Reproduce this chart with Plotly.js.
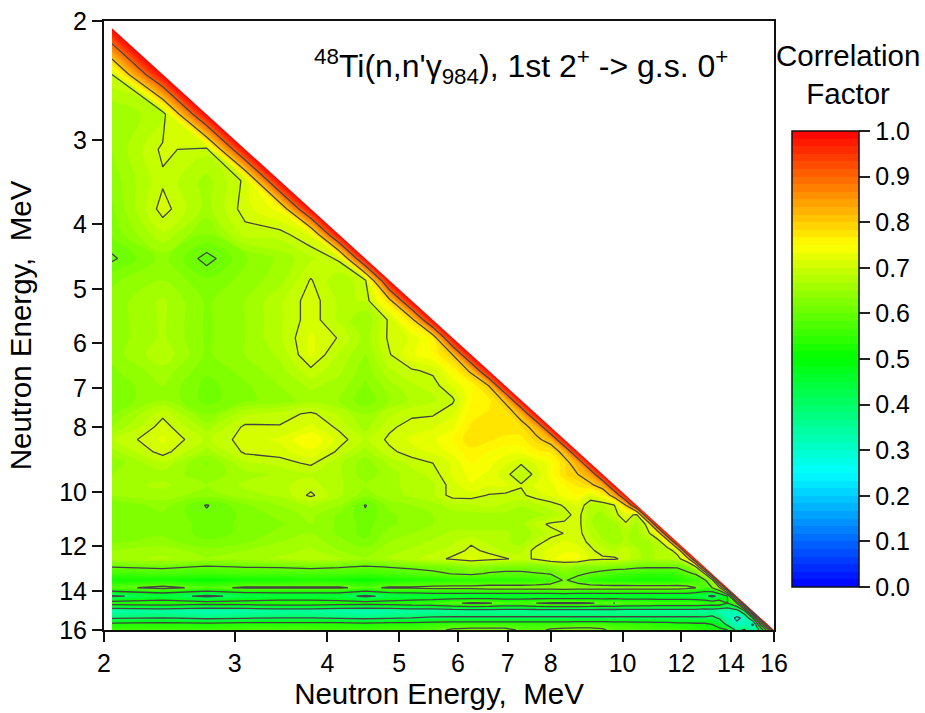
<!DOCTYPE html>
<html>
<head>
<meta charset="utf-8">
<script src="https://cdn.plot.ly/plotly-3.0.1.min.js"></script>
<style>html,body{margin:0;padding:0;background:#fff}</style>
</head>
<body>
<div id="chart" style="width:925px;height:713px"></div>
<script>
// Neutron energy grid (MeV), shared by both axes
var energies = [2.05,2.4,2.75,3.1,3.45,3.8,4.15,4.5,4.85,5.2,5.55,5.9,6.25,6.6,6.95,7.3,7.65,8.0,8.35,8.7,9.05,9.4,9.75,10.1,10.45,10.8,11.15,11.5,11.85,12.2,12.55,12.9,13.2,13.5,13.85,14.25,14.6,15,15.35,15.7,16];
var tickEnergies = [2,3,4,5,6,7,8,10,12,14,16];
var factorTicks = [0,0.1,0.2,0.3,0.4,0.5,0.6,0.7,0.8,0.9,1];
// Correlation factor x 100, lower triangle: row i covers energies[0..i]
var correlationPct = [
[100],
[70,100],
[65,68,100],
[65,70.5,69,100],
[64,69.6,66,70.5,100],
[63,71,66,71,74,100],
[62,68,63,69,69,72,100],
[59.5,64,59,63,65.5,68,70.5,100],
[63,65,62,64,66,70.2,67,69.5,100],
[64,67,63,65,68,71,68,68.5,78,100],
[64,67,63,65,68,71,68,65,70.5,78,100],
[64,67,63,65,68,72,69.8,66,70.5,72,76,100],
[64,68,63,65,67,72,68,65,69.8,73,75,80,100],
[63,66,62,64,66,69.5,67,64,68,69.7,70.5,75,81,100],
[62,65,61,63,65,67,66,63,66,68,69,72,75,80,100],
[62,65,61,63,64,66,65,62,65,67,68,69.5,75,76,81,100],
[63,69.5,63,68,69,70.5,68,65,68,69.5,69.7,71.5,76,77,77,82,100],
[65,71,66,70.5,70.2,72,69.5,66,69.5,71,71.5,73,77,77,78,78,82,100],
[68,72,68,71,72,75,71,68,70.5,72,73,75,78,77,76,76,79,82,100],
[66,71,66,70.5,71,73,69.5,66,69.5,71,72,74,76,75,74,74,76,77,82,100],
[64,68,63,68,69,70.5,67,64,67,69,70,72,75,74,72,70.2,72,74,78,83,100],
[65,66,64,66,67,68,67,64,66,67.5,69,72,74,73,70.6,68.5,70.6,74,78,80,84,100],
[66,67,65,67,68,69,67,65,66,67.5,68,71,73,72,72,70.2,72,73,75,77,79,83,100],
[65,66,64,66,67,70.5,67,64,66,67,68,71,71,69.8,69.5,69.5,71,72,74,75,72,75,83,100],
[62,64,59.8,63,65,67,65,59.8,64,65,66,67.5,68,69,68,67,68,69,70.3,72,68,68,70,80,100],
[62,63,60.5,62,64,65.5,63,60.5,63,64,65,66,66,66,66,65,66,67,69,71,67,66,69,72,69,100],
[62,63,61,62,63,65,63,61,63,64,65,66,66,66,66,66,69,70.5,70.5,71,67,65,66,69.5,66,71,100],
[62,63,61,62,64,65,63,61,64,65,66,67,67,67,67,66,67,69,70.1,71,68,66,66,67,66,69,74,100],
[63,64,62,63,65,66,64,62,65,66,67,68,69.7,68,67,66,69,71,72,71,69.5,67,66,67,66,66,68,74,100],
[65,66,64,65,66,67,65,64,66,67,68,69,70.5,69.5,68,68,71,72,73,73,70.5,69,68,69.5,67,66,67,68,72,100],
[66,67,65,66,67,68,67,65,67,68,69,70.5,72,71,70.3,69,70.5,73,74,74,71,70.5,70.5,69,67,66,67,67,68,74,100],
[60.1,61,59.5,60.2,60.4,61,60.4,59.5,60.2,60.8,61.5,62,64,63,62,62,62,63,65,63,63,63,62,62,61,60.7,60.7,60.5,60.7,62,69,100],
[56,57,56,57,57,57,57,56,57,58,59,60.2,61,59.5,59,59,59.7,60.2,62,61,59.5,58,57,56,55.5,55,55,55,56,59,60.5,70,100],
[52,52,51,52,52,53,52,51,52,53,53,54,54,54,54,54,55,57,60.5,58,55,54,53,53,52,52,52,52,53,54,56,59,66,100],
[58,62,58,61,61,61,61,58,61,61,62,62,62,63,63,63,63,63,64,63,63,63,63,63,63,63,63,63,63,62,60,57,60,68,100],
[39,43,38.5,42,43,43,43,38.5,42,43,44,44,44,44,44,44,44,44,44,44,44,44,44,44,44,44,44,44,44,44,43,42,38,42,50,100],
[54,55,53,54,55,55,54,53,54,55,56,59,61,60.5,58,58,60,61,61,61,60.5,59,60.1,58,58,58,57,57,57,57,57,56,55,56,50,60,100],
[33,34,32,33,34,34,33,32,33,34,34,35,35,35,35,35,35,35,35,35,35,35,35,35,35,35,35,35,35,35,35,34,35,33,33,35,48,100],
[39,40,38,39,40,40,39,38,39,40,41,41,41,41,41,41,41,41,41,41,41,41,41,41,41,41,41,41,41,41,41,41,42,39,33,29,31,52,100],
[53,54,53,54,54,54,54,53,54,54,55,56,56,56,56,56,56,56,56,57,57,57,56,56,55,55,54,54,53,53,52,52,50,47,38,31,33,29,62,100],
[56,56,56,57,57,57,56,56,57,57,58,61,62,62,62,59,58,61,62,62,62,61,58,58,57,57,56,56,56,55,55,53,54,52,50,38,41,34,42,65,100]
];

// Lower triangle is the drawn data. The hidden upper side reflects it about
// 1.0 so the diagonal itself stays a straight ridge at 1.0 between grid nodes.
var zFull = energies.map(function (_, r) {
  return energies.map(function (_, c) {
    return (r >= c ? correlationPct[r][c] : 200 - correlationPct[c][r]) / 100;
  });
});
var first = energies[0], last = energies[energies.length - 1], axisMin = tickEnergies[0];
var fontName = '"Liberation Sans", Arial, sans-serif';
var palette = [[0,'#0000ff'],[0.25,'#00ffff'],[0.5,'#00ff00'],[0.75,'#ffff00'],[1,'#ff0000']];

var traces = [
  { type:'contour', x:energies, y:energies, z:zFull, zmin:0, zmax:1, autocontour:false,
    colorscale:palette, hoverinfo:'skip',
    contours:{coloring:'fill', start:0, end:1, size:1/60, showlines:false},
    line:{width:0},
    colorbar:{ x:1.0268, xanchor:'left', xpad:0, y:0.0706, yanchor:'bottom', ypad:0,
      lenmode:'pixels', len:456, thicknessmode:'pixels', thickness:67,
      tickmode:'array', tickvals:factorTicks, ticktext:factorTicks.map(function(v){return v.toFixed(1);}),
      tickprefix:'\u00a0',
      ticks:'outside', ticklen:11, tickwidth:1.5, tickcolor:'#222',
      outlinewidth:1.5, outlinecolor:'#111',
      tickfont:{family:fontName,size:25,color:'#000'} } },
  { type:'contour', x:energies, y:energies, z:zFull, zmin:0, zmax:1, autocontour:false, showscale:false,
    hoverinfo:'skip',
    contours:{coloring:'none', start:0.1, end:0.9, size:0.1},
    line:{color:'#444', width:1.3, smoothing:0} },
  { type:'scatter', mode:'lines', x:[first,first,last,last,first], y:[first,axisMin,axisMin,last,first],
    fill:'toself', fillcolor:'#fff', line:{width:0}, hoverinfo:'skip', showlegend:false }
];

function axis(title, standoff, extra) {
  return Object.assign({
    type:'log', tickmode:'array', tickvals:tickEnergies, ticktext:tickEnergies.map(String),
    ticks:'outside', ticklen:10, tickwidth:2, tickcolor:'#111',
    showline:true, mirror:true, linewidth:2, linecolor:'#111',
    showgrid:false, zeroline:false, automargin:false,
    tickfont:{family:fontName,size:25,color:'#000'},
    title:{text:title, standoff:standoff, font:{family:fontName,size:29.5,color:'#000'}}
  }, extra);
}

var layout = {
  width:925, height:713, paper_bgcolor:'#fff', plot_bgcolor:'#fff', showlegend:false,
  margin:{l:103.5, r:151, t:21, b:83},
  xaxis: axis('Neutron Energy,  MeV', 6, {range:[Math.log10(2),Math.log10(16)]}),
  yaxis: axis('Neutron Energy,  MeV', 19, {range:[Math.log10(16),Math.log10(2)]}),
  annotations:[
    {xref:'paper',yref:'paper',x:0.934,y:0.926,xanchor:'right',yanchor:'middle',showarrow:false,
     text:"<sup>48</sup>Ti(n,n'γ<sub>984</sub>), 1st 2<sup>+</sup> -> g.s. 0<sup>+</sup>",
     font:{family:fontName,size:32,color:'#000'}},
    {xref:'paper',yref:'paper',x:1.11,y:0.912,xanchor:'center',yanchor:'middle',showarrow:false,
     text:'Correlation<br>Factor', font:{family:fontName,size:29.5,color:'#000'}}
  ]
};
Plotly.newPlot('chart', traces, layout, {displayModeBar:false});
</script>
</body>
</html>
